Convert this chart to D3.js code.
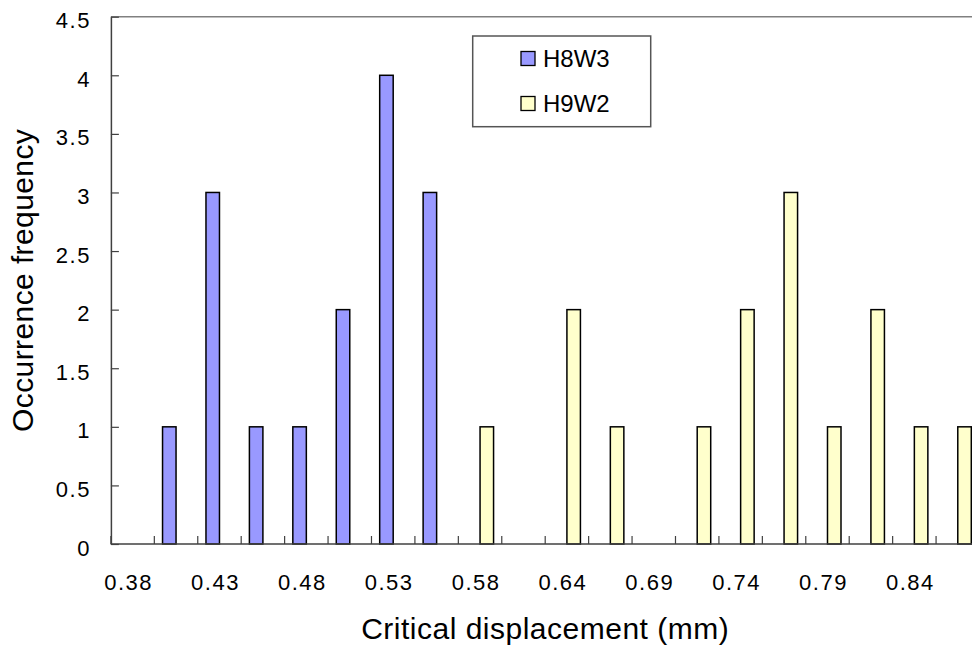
<!DOCTYPE html>
<html>
<head>
<meta charset="utf-8">
<script src="https://cdn.jsdelivr.net/npm/d3@7"></script>
<style>
  html, body { margin: 0; padding: 0; background: #fff; overflow: hidden; }
  text { font-family: "Liberation Sans", Arial, Helvetica, sans-serif; fill: #000; }
</style>
</head>
<body>
<svg id="chart" width="972" height="652"></svg>
<script>
// ---- data ----
const categories = ["0.38","0.41","0.43","0.46","0.48","0.51","0.53","0.56","0.58","0.61",
                    "0.64","0.66","0.69","0.71","0.74","0.76","0.79","0.82","0.84","0.87"];
const shownLabels = ["0.38","0.43","0.48","0.53","0.58","0.64","0.69","0.74","0.79","0.84"];
const seriesNames = ["H8W3", "H9W2"];
const h8w3 = [0,1,3,1,1,2,4,3,0,0,0,0,0,0,0,0,0,0,0,0];
const h9w2 = [0,0,0,0,0,0,0,0,1,0,2,1,0,1,2,3,1,2,1,1];
const seriesColors = ["#9999FF", "#FFFFCC"];
const yTicks = [0,0.5,1,1.5,2,2.5,3,3.5,4,4.5];

// ---- layout ----
const svg = d3.select("#chart");
const pLeft = 110.9, pRight = 979.5, pTop = 16.7, pBottom = 544;

const x = d3.scaleBand().domain(categories).range([pLeft, pRight]).paddingInner(0).paddingOuter(0);
const xs = d3.scaleBand().domain(seriesNames).range([0, x.bandwidth()]).paddingInner(0).paddingOuter(0.608);
const y = d3.scaleLinear().domain([0, 4.5]).range([pBottom, pTop]);

const seriesData = [h8w3, h9w2];

// top border
svg.append("line").attr("x1", pLeft).attr("x2", pRight).attr("y1", pTop).attr("y2", pTop)
  .attr("stroke", "#808080").attr("stroke-width", 1.5);

// bars
seriesNames.forEach((s, si) => {
  svg.append("g").selectAll("rect")
    .data(categories.map((c, i) => ({c, v: seriesData[si][i]})).filter(d => d.v > 0))
    .join("rect")
    .attr("x", d => x(d.c) + xs(s))
    .attr("y", d => y(d.v))
    .attr("width", xs.bandwidth())
    .attr("height", d => y(0) - y(d.v))
    .attr("fill", seriesColors[si])
    .attr("stroke", "#000")
    .attr("stroke-width", 1.5);
});

// y axis
const yAxis = d3.axisLeft(y).tickValues(yTicks).tickSizeInner(-8).tickSizeOuter(0).tickPadding(20)
  .tickFormat(d => String(d));
const gy = svg.append("g").attr("transform", `translate(${pLeft},0)`).call(yAxis);
gy.select(".domain").attr("stroke", "#404040").attr("stroke-width", 1.5);
gy.selectAll(".tick line").attr("stroke", "#404040").attr("stroke-width", 1.2);
gy.selectAll(".tick text").attr("font-size", 22).attr("letter-spacing", "1.5px")
  .attr("font-family", '"Liberation Sans", Arial, sans-serif').attr("fill", "#000")
  .attr("dy", "0.5em");

// x axis: ticks at category boundaries
const boundaries = categories.map(c => x(c)).concat([pRight]);
const gx = svg.append("g");
gx.append("line").attr("x1", pLeft).attr("x2", pRight).attr("y1", pBottom).attr("y2", pBottom)
  .attr("stroke", "#404040").attr("stroke-width", 1.5);
gx.selectAll("line.tk").data(boundaries).join("line").attr("class", "tk")
  .attr("x1", d => d).attr("x2", d => d).attr("y1", pBottom).attr("y2", pBottom - 8)
  .attr("stroke", "#404040").attr("stroke-width", 1.2);
gx.selectAll("text").data(shownLabels).join("text")
  .attr("x", d => x(d) + x.bandwidth() / 2 - 4)
  .attr("y", 590)
  .attr("text-anchor", "middle")
  .attr("font-size", 22).attr("letter-spacing", "1.5px")
  .text(d => d);

// axis titles
svg.append("text").attr("x", (pLeft + pRight) / 2).attr("y", 639)
  .attr("text-anchor", "middle").attr("font-size", 30).attr("letter-spacing", "0.5px")
  .text("Critical displacement (mm)");
svg.append("text").attr("transform", `translate(33,${(pTop + pBottom) / 2}) rotate(-90)`)
  .attr("text-anchor", "middle").attr("font-size", 30).attr("letter-spacing", "0.4px")
  .text("Occurrence frequency");

// legend
const lg = svg.append("g");
lg.append("rect").attr("x", 472.7).attr("y", 36).attr("width", 178).attr("height", 90.7)
  .attr("fill", "#fff").attr("stroke", "#555").attr("stroke-width", 1.5);
seriesNames.forEach((s, i) => {
  lg.append("rect").attr("x", 521).attr("y", 51.5 + i * 45).attr("width", 14).attr("height", 14)
    .attr("fill", seriesColors[i]).attr("stroke", "#000").attr("stroke-width", 1.3);
  lg.append("text").attr("x", 543).attr("y", 67 + i * 45).attr("font-size", 24).text(s);
});
</script>
</body>
</html>
